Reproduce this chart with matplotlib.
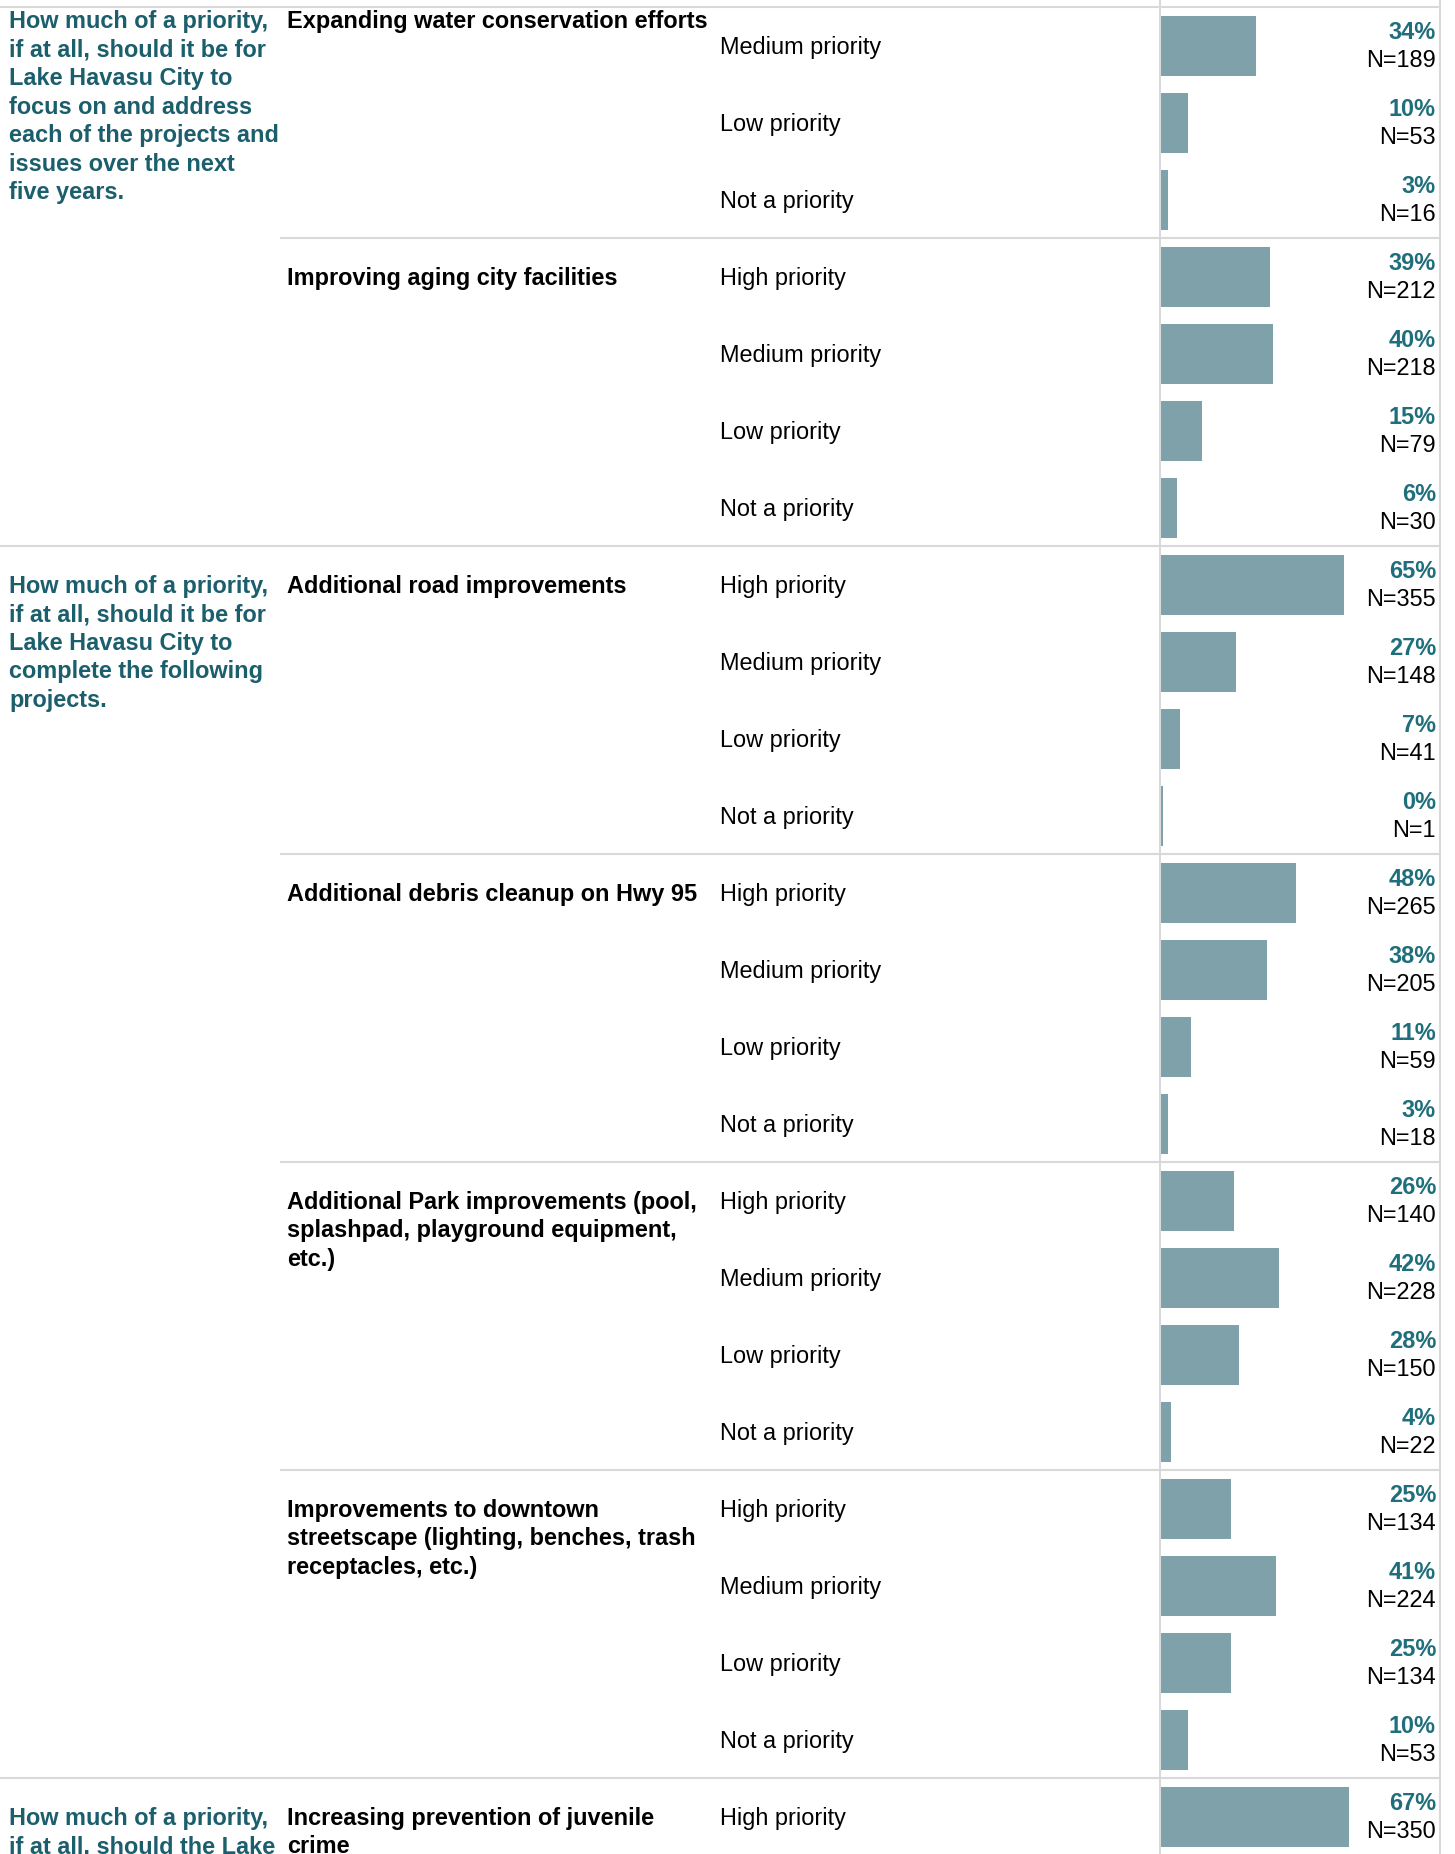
import matplotlib
matplotlib.use("Agg")
import matplotlib.pyplot as plt
import matplotlib.transforms as mtransforms

plt.rcParams['font.family'] = ['Liberation Sans', 'DejaVu Sans']

# questions, each with the groups it spans (first group is scrolled: its High row is off screen)
questions = [
    "How much of a priority,\nif at all, should it be for\nLake Havasu City to\nfocus on and address\neach of the projects and\nissues over the next\nfive years.",
    "How much of a priority,\nif at all, should it be for\nLake Havasu City to\ncomplete the following\nprojects.",
    "How much of a priority,\nif at all, should the Lake",
]
group_question = [0, 0, 1, 1, 1, 1, 2]
group_titles = [
    "Expanding water conservation efforts",
    "Improving aging city facilities",
    "Additional road improvements",
    "Additional debris cleanup on Hwy 95",
    "Additional Park improvements (pool,\nsplashpad, playground equipment,\netc.)",
    "Improvements to downtown\nstreetscape (lighting, benches, trash\nreceptacles, etc.)",
    "Increasing prevention of juvenile\ncrime",
]
group_levels = [
    ["Medium priority", "Low priority", "Not a priority"],
    ["High priority", "Medium priority", "Low priority", "Not a priority"],
    ["High priority", "Medium priority", "Low priority", "Not a priority"],
    ["High priority", "Medium priority", "Low priority", "Not a priority"],
    ["High priority", "Medium priority", "Low priority", "Not a priority"],
    ["High priority", "Medium priority", "Low priority", "Not a priority"],
    ["High priority"],
]
group_pct = [
    [34, 10, 3],
    [39, 40, 15, 6],
    [65, 27, 7, 0.2],
    [48, 38, 11, 3],
    [26, 42, 28, 4],
    [25, 41, 25, 10],
    [67],
]
group_n = [
    [189, 53, 16],
    [212, 218, 79, 30],
    [355, 148, 41, 1],
    [265, 205, 59, 18],
    [140, 228, 150, 22],
    [134, 224, 134, 53],
    [350],
]
hidden_rows = [1, 0, 0, 0, 0, 0, 0]

W, H = 1455, 1854
ROW = 77.0          # row height in px
TOP = 7.0           # px from figure top to first visible row
teal_q = '#1b5e6c'
teal_p = '#1f6e7b'
bar_c = '#7fa1a9'
grid_c = '#d9d9d9'
fs = 16.9
line_px = 28.5

fig = plt.figure(figsize=(W / 100, H / 100), dpi=100)
ax = fig.add_axes([1160 / W, 0, 280 / W, 1])
y_top = -0.5 - TOP / ROW
y_bot = y_top + H / ROW
trans = mtransforms.blended_transform_factory(fig.transFigure, ax.transData)


def px(v):
    return v / ROW


def lines(x, y0, text, **kw):
    # place each line separately so the spacing matches the reference
    for i, ln in enumerate(text.split("\n")):
        ax.text(x / W, y0 + i * px(line_px), ln, transform=trans, va='baseline',
                fontsize=fs, clip_on=False, **kw)


base = px(8.4)   # baseline offset from row centre
pin = y_top + px(20)

row = 0
q_start = {}
for g in range(len(group_titles)):
    start = row - hidden_rows[g]
    q = group_question[g]
    if q not in q_start:
        q_start[q] = start
        lines(9, max(start, pin) + base, questions[q], color=teal_q, fontweight='bold')
        x0 = 0
    else:
        x0 = 280
    # separator at top of the group
    ax.plot([x0 / W, 1440 / W], [row - 0.5, row - 0.5], transform=trans, color=grid_c,
            lw=1.5, clip_on=False, solid_capstyle='butt')
    lines(287, max(start, pin) + base, group_titles[g], color='black', fontweight='bold')
    ys = list(range(row, row + len(group_levels[g])))
    ax.barh(ys, [max(p, 1) if p < 1 else p for p in group_pct[g]], height=60 / ROW,
            color=bar_c, zorder=1)
    for y, lab, p, n in zip(ys, group_levels[g], group_pct[g], group_n[g]):
        lines(720, y + base, lab, color='black')
        ax.text(1436 / W, y - px(14.5) + base, f"{p:.0f}%", transform=trans, ha='right',
                va='baseline', fontsize=fs, fontweight='bold', color=teal_p)
        ax.text(1436 / W, y + px(13.5) + base, f"N={n}", transform=trans, ha='right',
                va='baseline', fontsize=fs, color='black')
    row += len(group_levels[g])

ax.set_xlim(0, 99)
ax.set_ylim(y_bot, y_top)
ax.set_xticks([])
ax.set_yticks([])
for s in ['top', 'bottom']:
    ax.spines[s].set_visible(False)
for s in ['left', 'right']:
    ax.spines[s].set_color(grid_c)
    ax.spines[s].set_linewidth(1.5)
ax.patch.set_alpha(0)

fig.savefig("out.png", dpi=100, facecolor='white')
